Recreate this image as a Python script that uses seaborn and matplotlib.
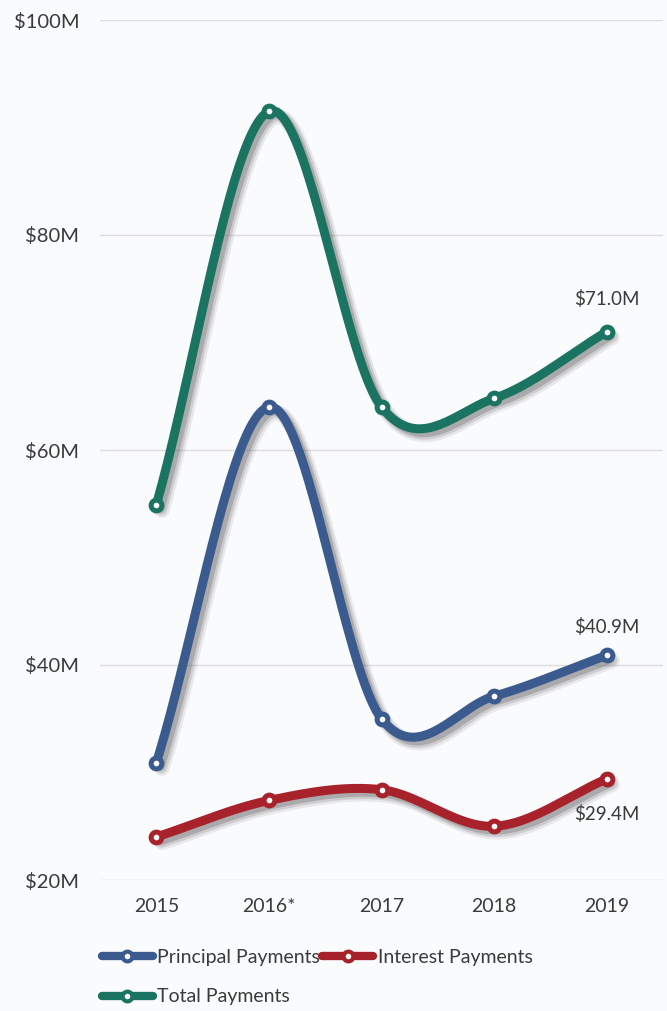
import numpy as np
import pandas as pd
import matplotlib
matplotlib.use("Agg")
import matplotlib.pyplot as plt
import matplotlib.patheffects as pe
from matplotlib.lines import Line2D
import seaborn as sns

years = ["2015", "2016*", "2017", "2018", "2019"]
principal = [30.9, 64.0, 35.0, 37.1, 40.9]
interest = [24.0, 27.4, 28.4, 25.0, 29.4]
total = [54.9, 91.5, 64.0, 64.8, 71.0]
series_names = ["Principal Payments", "Interest Payments", "Total Payments"]
series_values = [principal, interest, total]
colors = ["#3b5a8e", "#a8222c", "#1b7362"]
y_ticks = [20, 40, 60, 80, 100]
y_tick_labels = ["$20M", "$40M", "$60M", "$80M", "$100M"]
end_labels = ["$40.9M", "$29.4M", "$71.0M"]

sns.set_theme(style="white")
plt.rcParams["font.family"] = ["Lato", "DejaVu Sans"]

bg = "#fafbfd"
txt = "#3a3a3a"
fig = plt.figure(figsize=(6.67, 10.11), dpi=100, facecolor=bg)
ax = fig.add_axes([100 / 667, 131 / 1011, 563 / 667, 860 / 1011])
ax.set_facecolor(bg)


def catmull(xs, ys, n=40):
    xs = np.asarray(xs, float)
    ys = np.asarray(ys, float)
    m = np.zeros_like(ys)
    m[1:-1] = (ys[2:] - ys[:-2]) / (xs[2:] - xs[:-2])
    m[0] = ys[1] - ys[0]
    m[-1] = ys[-1] - ys[-2]
    outx, outy = [], []
    for i in range(len(xs) - 1):
        t = np.linspace(0, 1, n, endpoint=(i == len(xs) - 2))
        h = xs[i + 1] - xs[i]
        h00 = 2 * t**3 - 3 * t**2 + 1
        h10 = t**3 - 2 * t**2 + t
        h01 = -2 * t**3 + 3 * t**2
        h11 = t**3 - t**2
        outx.append(xs[i] + t * h)
        outy.append(h00 * ys[i] + h10 * h * m[i] + h01 * ys[i + 1] + h11 * h * m[i + 1])
    return np.concatenate(outx), np.concatenate(outy)


xpos = np.arange(len(years))
shadow = [
    pe.SimpleLineShadow(offset=(4, -4), shadow_color="#666666", alpha=0.12, linewidth=11),
    pe.SimpleLineShadow(offset=(3.5, -3.5), shadow_color="#555555", alpha=0.18, linewidth=8.5),
    pe.SimpleLineShadow(offset=(3, -3), shadow_color="#444444", alpha=0.25, linewidth=6),
    pe.Normal(),
]

order = [2, 0, 1]
for i in order:
    sx, sy = catmull(xpos, series_values[i])
    df = pd.DataFrame({"x": sx, "y": sy})
    sns.lineplot(data=df, x="x", y="y", ax=ax, color=colors[i], linewidth=6.5,
                 solid_capstyle="round", path_effects=shadow, zorder=3 + i, sort=False)
    pts = pd.DataFrame({"x": xpos, "y": series_values[i]})
    sns.scatterplot(data=pts, x="x", y="y", ax=ax, s=60, color="white",
                    edgecolor=colors[i], linewidth=3.6, zorder=6 + i)

# end labels
ax.annotate(end_labels[2], (4, total[-1]), xytext=(0, 17), textcoords="offset points",
            ha="center", va="bottom", fontsize=13.5, color=txt)
ax.annotate(end_labels[0], (4, principal[-1]), xytext=(0, 14), textcoords="offset points",
            ha="center", va="bottom", fontsize=13.5, color=txt)
ax.annotate(end_labels[1], (4, interest[-1]), xytext=(0, -19), textcoords="offset points",
            ha="center", va="top", fontsize=13.5, color=txt)

ax.set_xlim(-0.5, 4.5)
ax.set_ylim(20, 100)
ax.set_xticks(xpos)
ax.set_xticklabels(years, fontsize=14, color=txt)
ax.set_yticks(y_ticks)
ax.set_yticklabels(y_tick_labels, fontsize=14.5, color=txt)
ax.tick_params(axis="both", length=0)
ax.tick_params(axis="y", pad=15)
ax.tick_params(axis="x", pad=13)
ax.yaxis.grid(True, color="#dcdcdc", linewidth=1)
ax.xaxis.grid(False)
for s in ax.spines.values():
    s.set_visible(False)
ax.set_xlabel("")
ax.set_ylabel("")

handles = {i: Line2D([0], [0], color=colors[i], linewidth=6, solid_capstyle="round",
                     marker="o", markersize=7, markerfacecolor="white",
                     markeredgecolor=colors[i], markeredgewidth=3) for i in range(3)}
leg_order = [0, 2, 1]
fig.legend([handles[i] for i in leg_order], [series_names[i] for i in leg_order],
           ncol=2, loc="upper left",
           bbox_to_anchor=(102 / 667, 1 - 949 / 1011), frameon=False,
           fontsize=14, handlelength=2.6, handletextpad=0.25, columnspacing=0.1,
           labelspacing=1.15, borderaxespad=0, borderpad=0, labelcolor=txt)

fig.savefig("out.png", dpi=100, facecolor=bg)
